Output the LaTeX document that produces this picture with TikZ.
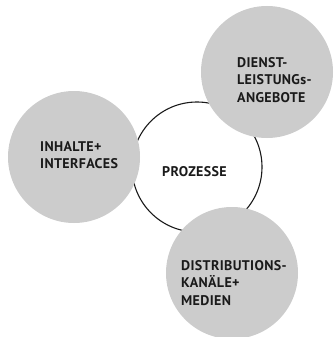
\documentclass[tikz,border=0pt]{standalone}
\usepackage{fontspec}
\setmainfont{PT Sans}[LetterSpace=2.5]
\definecolor{discgray}{HTML}{CCCCCC}
\definecolor{inkdark}{HTML}{1A1A1A}
\begin{document}
\begin{tikzpicture}[x=1pt,y=-1pt,
  disc/.style={circle,fill=discgray,draw=none,minimum size=132pt,inner sep=0pt},
  ring/.style={circle,draw=inkdark,line width=1.1pt,fill=white,minimum size=130pt,inner sep=0pt},
  lbl/.style={inner sep=0pt,anchor=west,align=left,text=inkdark,
    font=\bfseries\fontsize{14}{17.5}\selectfont}]
\useasboundingbox (0,0) rectangle (334,337);
\node[ring] (proz) at (197,167) {};
\node[disc] (inh) at (74,157) {};
\node[disc] (dien) at (267,72) {};
\node[disc] (dist) at (232,273) {};
\node[lbl] (tproz) at (162,172) {PROZESSE};
\node[lbl] (tinh) at (40,155) {INHALTE+\\INTERFACES};
\node[lbl] (tdien) at (237,80) {DIENST-\\LEISTUNGs-\\ANGEBOTE};
\node[lbl] (tdist) at (181,283) {DISTRIBUTIONS-\\KANÄLE+\\MEDIEN};
\end{tikzpicture}
\end{document}
